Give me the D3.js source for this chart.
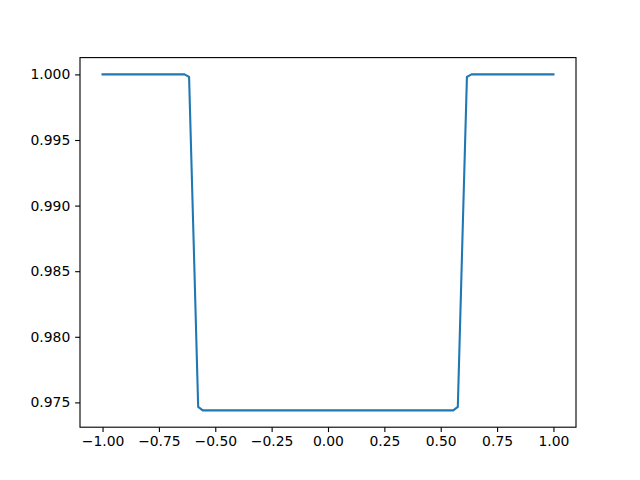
<!DOCTYPE html>
<html>
<head>
<meta charset="utf-8">
<script src="https://cdn.jsdelivr.net/npm/d3@7"></script>
<style>
  html, body { margin: 0; padding: 0; background: #fff; }
  svg { display: block; }
  text { font-family: "DejaVu Sans", sans-serif; }
</style>
</head>
<body>
<script>
// Data
const xValues = [
  -1.0000, -0.9798, -0.9596, -0.9394, -0.9192, -0.8990, -0.8788, -0.8586, -0.8384, -0.8182,
  -0.7980, -0.7778, -0.7576, -0.7374, -0.7172, -0.6970, -0.6768, -0.6566, -0.6364, -0.6162,
  -0.5960, -0.5758, -0.5556, -0.5354, -0.5152, -0.4949, -0.4747, -0.4545, -0.4343, -0.4141,
  -0.3939, -0.3737, -0.3535, -0.3333, -0.3131, -0.2929, -0.2727, -0.2525, -0.2323, -0.2121,
  -0.1919, -0.1717, -0.1515, -0.1313, -0.1111, -0.0909, -0.0707, -0.0505, -0.0303, -0.0101,
   0.0101,  0.0303,  0.0505,  0.0707,  0.0909,  0.1111,  0.1313,  0.1515,  0.1717,  0.1919,
   0.2121,  0.2323,  0.2525,  0.2727,  0.2929,  0.3131,  0.3333,  0.3535,  0.3737,  0.3939,
   0.4141,  0.4343,  0.4545,  0.4747,  0.4949,  0.5152,  0.5354,  0.5556,  0.5758,  0.5960,
   0.6162,  0.6364,  0.6566,  0.6768,  0.6970,  0.7172,  0.7374,  0.7576,  0.7778,  0.7980,
   0.8182,  0.8384,  0.8586,  0.8788,  0.8990,  0.9192,  0.9394,  0.9596,  0.9798,  1.0000
];
const fluxValues = [
  1.0, 1.0, 1.0, 1.0, 1.0, 1.0, 1.0, 1.0, 1.0, 1.0,
  1.0, 1.0, 1.0, 1.0, 1.0, 1.0, 1.0, 1.0, 1.0, 0.99981,
  0.9873, 0.97466, 0.97439, 0.97439, 0.97439, 0.97439, 0.97439, 0.97439, 0.97439, 0.97439,
  0.97439, 0.97439, 0.97439, 0.97439, 0.97439, 0.97439, 0.97439, 0.97439, 0.97439, 0.97439,
  0.97439, 0.97439, 0.97439, 0.97439, 0.97439, 0.97439, 0.97439, 0.97439, 0.97439, 0.97439,
  0.97439, 0.97439, 0.97439, 0.97439, 0.97439, 0.97439, 0.97439, 0.97439, 0.97439, 0.97439,
  0.97439, 0.97439, 0.97439, 0.97439, 0.97439, 0.97439, 0.97439, 0.97439, 0.97439, 0.97439,
  0.97439, 0.97439, 0.97439, 0.97439, 0.97439, 0.97439, 0.97439, 0.97439, 0.97466, 0.9873,
  0.99981, 1.0, 1.0, 1.0, 1.0, 1.0, 1.0, 1.0, 1.0, 1.0,
  1.0, 1.0, 1.0, 1.0, 1.0, 1.0, 1.0, 1.0, 1.0, 1.0
];
const xTicks = [-1.00, -0.75, -0.50, -0.25, 0.00, 0.25, 0.50, 0.75, 1.00];
const yTicks = [0.975, 0.980, 0.985, 0.990, 0.995, 1.000];

const W = 640, H = 480;
const mLeft = 80, mRight = 576, mTop = 57.6, mBottom = 427.2;

const svg = d3.select("body").append("svg").attr("width", W).attr("height", H);

const xMin = d3.min(xValues), xMax = d3.max(xValues);
const yMin = d3.min(fluxValues), yMax = d3.max(fluxValues);
const xPad = (xMax - xMin) * 0.05, yPad = (yMax - yMin) * 0.05;

const x = d3.scaleLinear().domain([xMin - xPad, xMax + xPad]).range([mLeft, mRight]);
const y = d3.scaleLinear().domain([yMin - yPad, yMax + yPad]).range([mBottom, mTop]);

const minus = s => s.replace("-", "\u2212");

const xAxis = d3.axisBottom(x).tickValues(xTicks)
  .tickFormat(d => minus(d3.format(".2f")(d))).tickSize(4.86).tickPadding(4.0);
const yAxis = d3.axisLeft(y).tickValues(yTicks)
  .tickFormat(d => d3.format(".3f")(d)).tickSize(4.86).tickPadding(4.86);

const gx = svg.append("g").attr("transform", `translate(0,${mBottom})`).call(xAxis);
const gy = svg.append("g").attr("transform", `translate(${mLeft},0)`).call(yAxis);
[gx, gy].forEach(g => {
  g.select(".domain").remove();
  g.selectAll(".tick line").attr("stroke", "#000").attr("stroke-width", 1.11);
  g.selectAll(".tick text").attr("fill", "#000").style("font-size", "13.9px")
    .style("font-family", "'DejaVu Sans', sans-serif");
});

const line = d3.line().x((d, i) => x(xValues[i])).y(d => y(d));
svg.append("path").datum(fluxValues)
  .attr("fill", "none").attr("stroke", "#1f77b4").attr("stroke-width", 2.08)
  .attr("stroke-linejoin", "round").attr("stroke-linecap", "square")
  .attr("d", line);

svg.append("rect").attr("x", mLeft).attr("y", mTop)
  .attr("width", mRight - mLeft).attr("height", mBottom - mTop)
  .attr("fill", "none").attr("stroke", "#000").attr("stroke-width", 1.11);
</script>
</body>
</html>
